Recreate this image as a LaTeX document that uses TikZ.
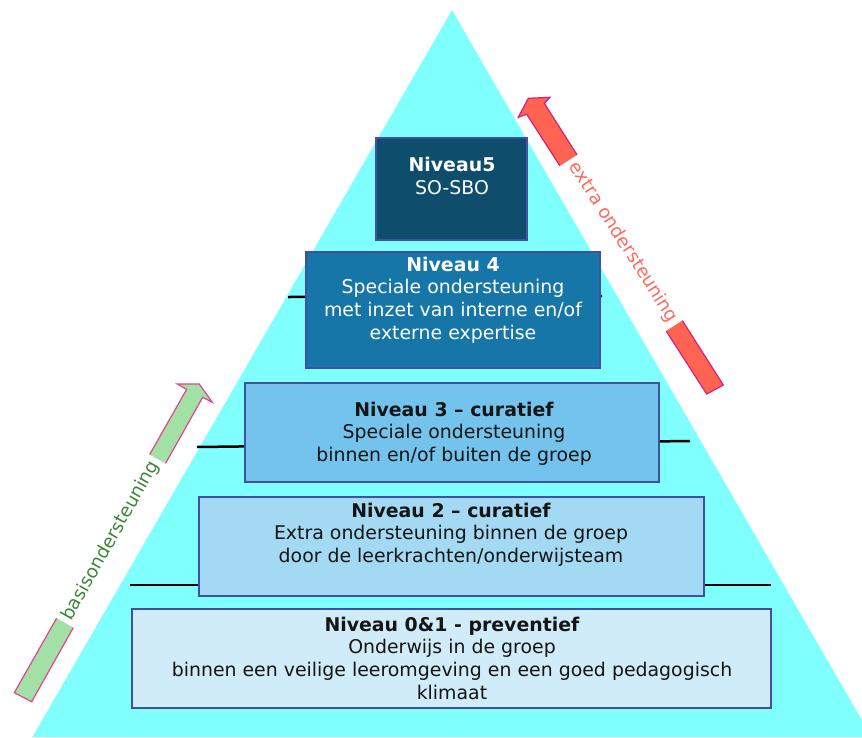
\documentclass[tikz,border=0pt]{standalone}
\usepackage{fontspec}
\setmainfont{DejaVu Sans}
\begin{document}
\begin{tikzpicture}[x=1pt,y=-1pt,
  box/.style={draw=boxline, line width=2pt, rectangle, inner sep=0pt},
  txt/.style={align=center, inner sep=0pt, font=\fontsize{18.9}{22.7}\selectfont},
  sepline/.style={draw=black, line width=2.5pt},
  arrlabel/.style={fill=white, inner xsep=2pt, inner ysep=0pt, minimum height=30pt, font=\fontsize{18.3}{22}\selectfont}
]
\definecolor{tri}{HTML}{80FFFF}
\definecolor{boxline}{HTML}{3F51A0}
\definecolor{cfive}{HTML}{0F4D6C}
\definecolor{cfour}{HTML}{1676A7}
\definecolor{cthree}{HTML}{74C3EC}
\definecolor{ctwo}{HTML}{A4D9F4}
\definecolor{czero}{HTML}{D0ECF8}
\definecolor{darktext}{HTML}{151515}
\definecolor{gfill}{HTML}{A2E0A6}
\definecolor{gline}{HTML}{E0468C}
\definecolor{gtext}{HTML}{3A873A}
\definecolor{rfill}{HTML}{FF6452}
\definecolor{rline}{HTML}{D8207A}
\definecolor{rtext}{HTML}{FF6A5C}

\clip (0,0) rectangle (862,737);
\fill[white] (0,0) rectangle (862,737);

% pyramid
\coordinate (apex) at (452,10);
\coordinate (bl) at (32.4,737);
\coordinate (br) at (871.6,737);
\fill[tri] (apex) -- (bl) -- (br) -- cycle;

% separator lines
\coordinate (l1a) at (130,585); \coordinate (l1b) at (771,585);
\coordinate (l2a) at (197,447); \coordinate (l2b) at (690,441);
\coordinate (l3a) at (288,297); \coordinate (l3b) at (602,296);
\draw[sepline] (l1a) -- (l1b);
\draw[sepline] (l2a) -- (l2b);
\draw[sepline] (l3a) -- (l3b);

% boxes
\node[box, fill=cfive, minimum width=151pt, minimum height=102pt] (b5) at (451.5,189) {};
\node[box, fill=cfour, minimum width=294pt, minimum height=116pt] (b4) at (453,310) {};
\node[box, fill=cthree, minimum width=414pt, minimum height=99pt] (b3) at (452,432.5) {};
\node[box, fill=ctwo, minimum width=505pt, minimum height=99pt] (b2) at (451.5,546.5) {};
\node[box, fill=czero, minimum width=639pt, minimum height=99pt] (b0) at (451.5,658.5) {};

% texts
\node[txt, text=white] (t5) at (452,176) {\textbf{Niveau5}\\SO-SBO};
\node[txt, text=white] (t4) at (453,300) {\textbf{Niveau 4}\\Speciale ondersteuning\\met inzet van interne en/of\\externe expertise};
\node[txt, text=darktext] (t3) at (454,433.5) {\textbf{Niveau 3 – curatief}\\Speciale ondersteuning\\binnen en/of buiten de groep};
\node[txt, text=darktext] (t2) at (451,534.5) {\textbf{Niveau 2 – curatief}\\Extra ondersteuning binnen de groep\\door de leerkrachten/onderwijsteam};
\node[txt, text=darktext] (t0) at (452,658) {\textbf{Niveau 0\&1 - preventief}\\Onderwijs in de groep\\binnen een veilige leeromgeving en een goed pedagogisch\\klimaat};

% green arrow
\draw[fill=gfill, draw=gline, line width=1.2pt, line join=miter]
  (14.3,692.7) -- (186.7,389.3) -- (177.3,384) -- (199.3,384) -- (212.3,402.3)
  -- (202.7,397.3) -- (31.7,701.7) -- cycle;
\node[arrlabel, text=gtext, rotate=60.6, minimum width=188pt] (gl) at (110.8,540.7) {basisondersteuning};

% red arrow
\draw[fill=rfill, draw=rline, line width=1.2pt, line join=miter]
  (723.3,385) -- (544.3,103.3) -- (550,97.3) -- (528.3,98.3) -- (518.3,117.3)
  -- (526.7,114.3) -- (706.7,394) -- cycle;
\node[arrlabel, text=rtext, rotate=-57.4, minimum width=196pt] (rl) at (623,242) {extra ondersteuning};
\end{tikzpicture}
\end{document}
